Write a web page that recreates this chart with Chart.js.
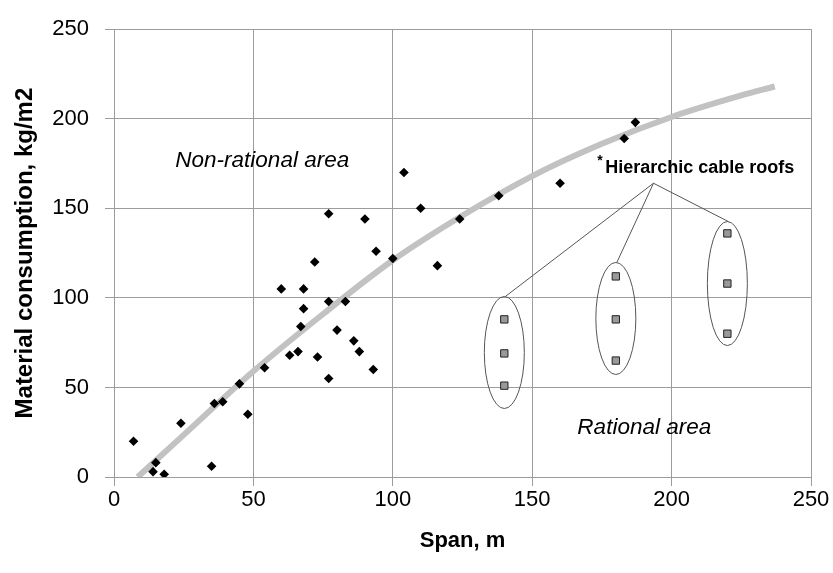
<!DOCTYPE html>
<html>
<head>
<meta charset="utf-8">
<script src="https://cdn.jsdelivr.net/npm/chart.js@4"></script>
<style>
  html, body { margin: 0; padding: 0; background: #fff; }
  #chart { display: block; }
</style>
</head>
<body>
<canvas id="chart" width="833" height="573"></canvas>
<script>
// Span (m) and material consumption (kg/m2) of the surveyed roofs
const spans = [7, 14, 18, 15, 24, 35, 36, 39, 48, 45, 54, 63, 66, 60, 67, 104, 110, 77, 90, 94,
    100, 72, 68, 77, 83, 68, 80, 86, 88, 73, 93, 77, 116, 124, 138, 160, 183, 187];
const consumption = [20, 3, 1.5, 8, 30, 6, 41, 42, 35, 52, 61, 68, 70, 105, 84, 170, 150, 147, 144, 126,
    122, 120, 105, 98, 98, 94, 82, 76, 70, 67, 60, 55, 118, 144, 157, 164, 189, 198];

// Hierarchic cable roofs (three groups)
const hierSpans = [140, 140, 140, 180, 180, 180, 220, 220, 220];
const hierConsumption = [88, 69, 51, 112, 88, 65, 136, 108, 80];

// Boundary between rational and non-rational area
const trendSpans = [8.5, 25, 50, 75, 100, 125, 150, 175, 200, 225, 237];
const trendConsumption = [0, 23.5, 59, 91, 121, 146, 168, 186, 201, 213, 218];

const xTicks = [0, 50, 100, 150, 200, 250];
const yTicks = [0, 50, 100, 150, 200, 250];

const toPoints = (xs, ys) => xs.map((x, i) => ({ x: x, y: ys[i] }));

// ellipses, connector lines and the text labels
const annotations = {
    id: 'annotations',
    afterDatasetsDraw(chart) {
        const { ctx, scales: { x, y } } = chart;
        ctx.save();
        ctx.strokeStyle = '#555';
        ctx.lineWidth = 1;

        const apexX = x.getPixelForValue(193.5);
        const apexY = y.getPixelForValue(164);
        const ellipseHalfHeights = [56, 56, 62];
        for (let g = 0; g < 3; g++) {
            const ys = hierConsumption.slice(g * 3, g * 3 + 3);
            const cx = x.getPixelForValue(hierSpans[g * 3]);
            const top = y.getPixelForValue(Math.max(...ys));
            const bottom = y.getPixelForValue(Math.min(...ys));
            const cy = (top + bottom) / 2;
            const ry = ellipseHalfHeights[g];
            ctx.beginPath();
            ctx.ellipse(cx, cy, 20, ry, 0, 0, Math.PI * 2);
            ctx.stroke();
            ctx.beginPath();
            ctx.moveTo(apexX, apexY);
            ctx.lineTo(cx + 1, cy - ry);
            ctx.stroke();
        }

        ctx.fillStyle = '#000';
        ctx.textBaseline = 'alphabetic';
        ctx.textAlign = 'left';
        ctx.font = 'italic 22.5px "Liberation Sans", Arial, sans-serif';
        ctx.fillText('Non-rational area', x.getPixelForValue(22), y.getPixelForValue(173));
        ctx.fillText('Rational area', x.getPixelForValue(166.2), y.getPixelForValue(24));
        ctx.font = 'bold 18px "Liberation Sans", Arial, sans-serif';
        ctx.fillText('Hierarchic cable roofs', x.getPixelForValue(176.2), y.getPixelForValue(169.7));
        ctx.font = 'bold 14px "Liberation Sans", Arial, sans-serif';
        ctx.fillText('*', x.getPixelForValue(173.3), y.getPixelForValue(174));
        ctx.restore();
    }
};

const tickFont = { family: '"Liberation Sans", Arial, sans-serif', size: 22 };

new Chart(document.getElementById('chart').getContext('2d'), {
    type: 'scatter',
    data: {
        datasets: [
            {
                label: 'Boundary',
                type: 'line',
                data: toPoints(trendSpans, trendConsumption),
                borderColor: '#c2c2c2',
                borderWidth: 6,
                pointRadius: 0,
                cubicInterpolationMode: 'monotone',
                order: 3
            },
            {
                label: 'Roofs',
                data: toPoints(spans, consumption),
                pointStyle: 'rectRot',
                pointRadius: 4.8,
                backgroundColor: '#000',
                borderColor: '#000',
                borderWidth: 0,
                order: 1
            },
            {
                label: 'Hierarchic cable roofs',
                data: toPoints(hierSpans, hierConsumption),
                pointStyle: 'rect',
                pointRadius: 5.2,
                backgroundColor: '#999',
                borderColor: '#222',
                borderWidth: 1,
                order: 2
            }
        ]
    },
    options: {
        responsive: false,
        animation: false,
        layout: { padding: { top: 20, right: 22, left: 0, bottom: 0 } },
        plugins: {
            legend: { display: false },
            tooltip: { enabled: false }
        },
        scales: {
            x: {
                type: 'linear',
                min: 0,
                max: 250,
                afterBuildTicks: s => { s.ticks = xTicks.map(v => ({ value: v })); },
                ticks: { font: tickFont, color: '#000', padding: 1 },
                grid: { color: '#9c9c9c', tickLength: 9 },
                border: { color: '#9c9c9c' },
                title: {
                    display: true, text: 'Span, m', color: '#000',
                    font: { family: '"Liberation Sans", Arial, sans-serif', size: 22, weight: 'bold' },
                    padding: { top: 4, bottom: 19 }
                },
                afterFit: s => { s.height = 96; }
            },
            y: {
                type: 'linear',
                min: 0,
                max: 250,
                afterBuildTicks: s => { s.ticks = yTicks.map(v => ({ value: v })); },
                ticks: { font: tickFont, color: '#000', padding: 16 },
                grid: { color: '#9c9c9c', tickLength: 9 },
                border: { color: '#9c9c9c' },
                title: {
                    display: true, text: 'Material consumption, kg/m2', color: '#000',
                    font: { family: '"Liberation Sans", Arial, sans-serif', size: 24, weight: 'bold' },
                    padding: { top: 11, bottom: 0 }
                },
                afterFit: s => { s.width = 114; }
            }
        }
    },
    plugins: [annotations]
});
</script>
</body>
</html>
